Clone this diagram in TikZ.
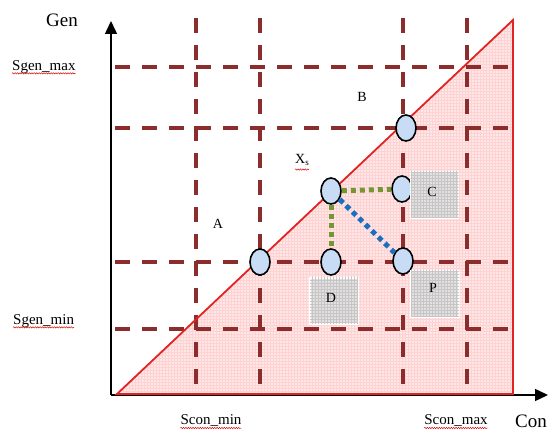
\documentclass[tikz,border=0pt]{standalone}
\usepackage{fontspec}
\setmainfont{Liberation Serif}
\usetikzlibrary{patterns,arrows.meta,shapes.geometric,decorations.pathmorphing}

\definecolor{limitred}{RGB}{140,45,45}
\definecolor{zonepink}{RGB}{252,232,232}
\definecolor{edgered}{RGB}{225,35,35}
\definecolor{pointblue}{RGB}{200,220,246}
\definecolor{movegreen}{RGB}{118,150,52}
\definecolor{moveblue}{RGB}{25,112,192}
\definecolor{boxgray}{RGB}{228,224,224}

\tikzset{
  limit/.style={limitred,line width=3.8pt,dash pattern=on 15pt off 12pt},
  point/.style={ellipse,draw,line width=1.6pt,fill=pointblue,
    minimum width=20pt,minimum height=26pt,inner sep=0pt},
  region/.style={draw=white,line width=1.8pt,fill=boxgray,
    minimum width=48pt,minimum height=46pt,inner sep=0pt,
    postaction={pattern=grid,pattern color=gray!45}},
  lbl/.style={inner sep=0pt,font=\fontsize{14}{16}\selectfont},
  axlbl/.style={inner sep=0pt,font=\fontsize{15}{17}\selectfont},
  big/.style={inner sep=0pt,font=\fontsize{19}{22}\selectfont},
  spell/.style={red!85!black,line width=0.45pt,decorate,
    decoration={snake,amplitude=0.7pt,segment length=2.4pt}},
  move/.style={line width=5pt,dash pattern=on 5pt off 4pt}
}

\begin{document}
\begin{tikzpicture}[x=1pt,y=-1pt]
  \useasboundingbox (0,0) rectangle (552,430);

  % feasible zone
  \fill[zonepink] (117,394) -- (513,20) -- (513,394) -- cycle;
  \pattern[pattern=grid,pattern color=red!18] (117,394) -- (513,20) -- (513,394) -- cycle;

  % limits
  \foreach \y in {67,128,262,329}
    \draw[limit] (115,\y) -- (510,\y);
  \foreach \x in {196,260,403,467}
    \draw[limit] (\x,18) -- (\x,393);

  % axes
  \coordinate (O) at (111,395);
  \draw[line width=1.5pt,-{Triangle[length=13pt,width=12pt]}] (O) -- (111,21);
  \draw[line width=1.5pt,-{Triangle[length=13pt,width=12pt]}] (O) -- (548,395);
  \draw[edgered,line width=1.8pt,line join=miter] (117,394) -- (513,20) -- (513,394) -- cycle;

  % operating points
  \node[point] (Xs) at (331,191) {};
  \node[point] (Ap) at (260,262) {};
  \node[point] (Bp) at (406,128) {};
  \node[point] (Cp) at (402,189) {};
  \node[point] (Dp) at (331,262) {};
  \node[point] (Pp) at (403,261) {};

  \draw[move,movegreen] (Xs) -- (Cp);
  \draw[move,movegreen] (Xs) -- (Dp);
  \draw[move,moveblue] (Xs) -- (Pp);

  % target zones
  \node[region] (Cz) at (434.5,195) {};
  \node[region] (Dz) at (334,301) {};
  \node[region] (Pz) at (435,294) {};

  \node[lbl] (Cl) at (432,192) {C};
  \node[lbl] (Dl) at (331,298) {D};
  \node[lbl] (Pl) at (433,288) {P};
  \node[lbl] (Al) at (218,224) {A};
  \node[lbl] (Bl) at (362,97) {B};
  \node[lbl] (Xl) at (302,160) {X\raisebox{-2pt}{\fontsize{9}{10}\selectfont s}};
  \draw[spell] ([yshift=-6pt]Xl.base west) -- ([yshift=-6pt]Xl.base east);

  % axis labels
  \node[big] (Gen) at (62,20) {Gen};
  \node[big,anchor=west] (Con) at (515,421) {Con};
  \node[axlbl,anchor=west] (Smax) at (12,67) {Sgen\_max};
  \node[axlbl,anchor=west] (Smin) at (13,321) {Sgen\_min};
  \node[axlbl] (Cmin) at (211,421) {Scon\_min};
  \node[axlbl] (Cmax) at (456,421) {Scon\_max};
  \foreach \n in {Smax,Smin,Cmin,Cmax}
    \draw[spell] ([yshift=-3pt]\n.base west) -- ([yshift=-3pt]\n.base east);
\end{tikzpicture}
\end{document}
